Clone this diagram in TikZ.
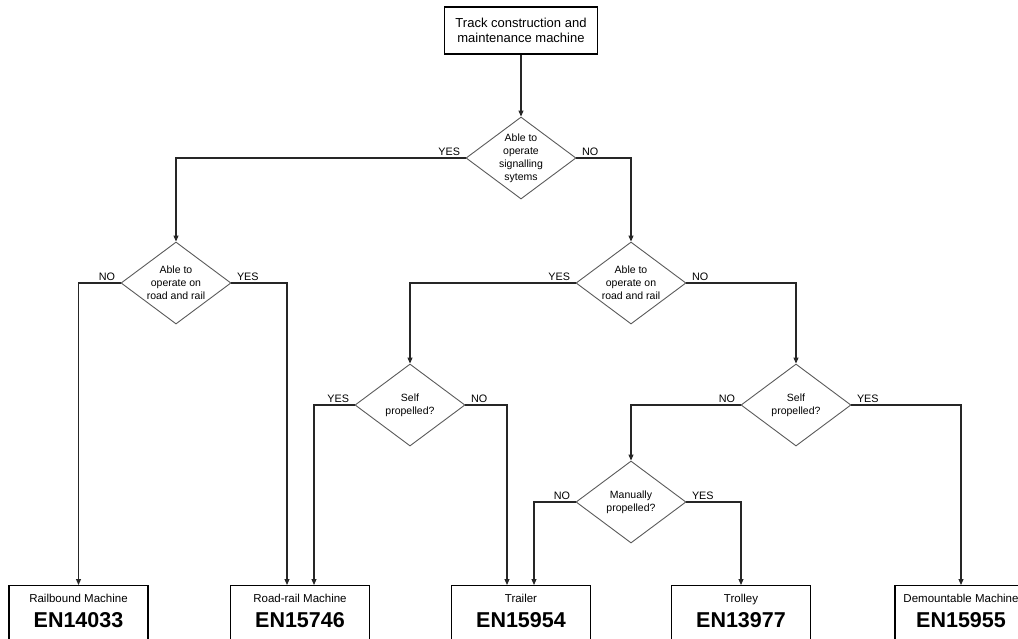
\documentclass[tikz,border=0pt]{standalone}
\usepackage{fontspec}
\setmainfont{Liberation Sans}
\usetikzlibrary{positioning,arrows.meta,shapes.geometric}
\definecolor{rimgray}{HTML}{5A5A5A}

\begin{document}
\begin{tikzpicture}[
  x=1pt,y=-1pt,
  on grid,
  start/.style={draw,line width=1.2pt,minimum width=153pt,minimum height=47pt,align=center,font=\fontsize{13}{15}\selectfont},
  decision/.style={draw=rimgray,line width=0.9pt,shape=diamond,aspect=1.34,minimum width=110pt,minimum height=82pt,inner sep=0pt,align=center,font=\fontsize{10.5}{13}\selectfont},
  result/.style={draw,line width=1.2pt,minimum width=139pt,inner ysep=8.6pt,text depth=15pt,align=center,font=\fontsize{21.5}{25}\selectfont\bfseries},
  ans left/.style={anchor=south east,inner sep=2pt,xshift=-3pt,font=\fontsize{10.8}{13}\selectfont},
  ans right/.style={anchor=south west,inner sep=2pt,xshift=3pt,font=\fontsize{10.8}{13}\selectfont},
  flow/.style={draw=black!85,line width=1.1pt,-{Triangle[length=6pt,width=5pt]}},
]
  \useasboundingbox (0,0) rectangle (1018,638);

  % Start
  \node[start] (machine) at (521,30.5) {Track construction and\\maintenance machine};

  % Decisions
  \node[decision,below=127.5pt of machine] (signal) {Able to\\operate\\signalling\\sytems};
  \node[decision,below left=125pt and 345pt of signal] (rail) {Able to\\operate on\\road and rail};
  \node[decision,below right=125pt and 110pt of signal] (road) {Able to\\operate on\\road and rail};
  \node[decision,below left=122pt and 221pt of road] (selfA) {Self\\propelled?};
  \node[decision,below right=122pt and 165pt of road] (selfB) {Self\\propelled?};
  \node[decision,below left=97pt and 165pt of selfB] (manual) {Manually\\propelled?};

  % Standards
  \node[result,below left=302pt and 97.5pt of rail,anchor=north] (railbound) {{\fontsize{11.5}{14}\selectfont\mdseries Railbound Machine}\\EN14033};
  \node[result,below right=302pt and 124pt of rail,anchor=north] (roadrail) {{\fontsize{11.5}{14}\selectfont\mdseries Road-rail Machine}\\EN15746};
  \node[result,below right=180pt and 111pt of selfA,anchor=north] (trailer) {{\fontsize{11.5}{14}\selectfont\mdseries Trailer}\\EN15954};
  \node[result,below right=83pt and 110pt of manual,anchor=north] (trolley) {{\fontsize{11.5}{14}\selectfont\mdseries Trolley}\\EN13977};
  \node[result,below right=180pt and 165pt of selfB,anchor=north,minimum width=132pt] (demount) {{\fontsize{11.5}{14}\selectfont\mdseries Demountable Machine}\\EN15955};

  % Edges: signalling
  \draw[flow] (machine) -- (signal);
  \draw[flow] (signal.west) node[ans left] {YES} -| (rail.north);
  \draw[flow] (signal.east) node[ans right] {NO} -| (road.north);

  % Edges: road and rail
  \draw[flow] (rail.west) node[ans left] {NO} -| (railbound.north);
  \draw[flow] (rail.east) node[ans right] {YES} -| ([xshift=-13pt]roadrail.north);
  \draw[flow] (road.west) node[ans left] {YES} -| (selfA.north);
  \draw[flow] (road.east) node[ans right] {NO} -| (selfB.north);

  % Edges: propulsion
  \draw[flow] (selfA.west) node[ans left] {YES} -| ([xshift=14pt]roadrail.north);
  \draw[flow] (selfA.east) node[ans right] {NO} -| ([xshift=-14pt]trailer.north);
  \draw[flow] (selfB.west) node[ans left] {NO} -| (manual.north);
  \draw[flow] (selfB.east) node[ans right] {YES} -| (demount.north);
  \draw[flow] (manual.west) node[ans left] {NO} -| ([xshift=13pt]trailer.north);
  \draw[flow] (manual.east) node[ans right] {YES} -| (trolley.north);
\end{tikzpicture}
\end{document}
